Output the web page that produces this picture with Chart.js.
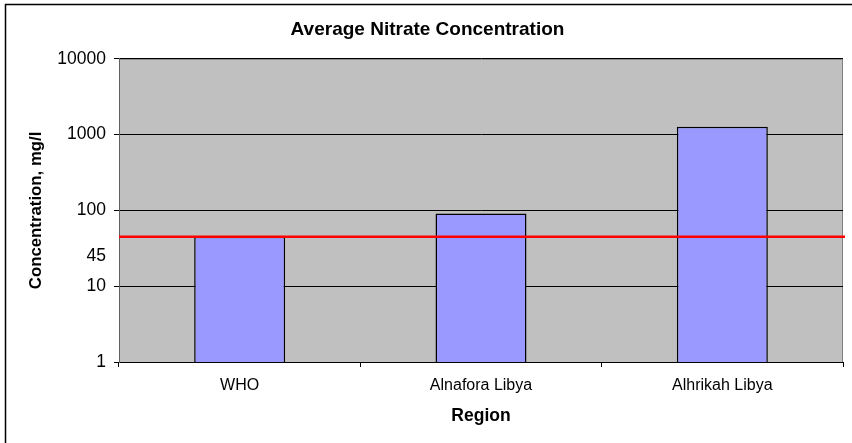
<!DOCTYPE html>
<html>
<head>
<meta charset="utf-8">
<script src="https://cdn.jsdelivr.net/npm/chart.js@4/dist/chart.umd.min.js"></script>
<style>
  html, body { margin: 0; padding: 0; background: #fff; }
  #wrap { position: relative; width: 852px; height: 443px; }
</style>
</head>
<body>
<div id="wrap"><canvas id="nitrate-chart" width="852" height="443"></canvas></div>
<script>
// Dữ liệu biểu đồ
const regions = ["WHO", "Alnafora Libya", "Alhrikah Libya"];
const concentrations = [45, 91, 1270];
const whoLimit = 45; // giới hạn WHO (đường đỏ)
const yTicks = [1, 10, 100, 1000, 10000];

const FONT = "'Liberation Sans', Arial, sans-serif";

// Nền xám cho vùng vẽ, khung ngoài, đường giới hạn và nhãn "45"
const decorPlugin = {
  id: "decor",
  beforeDraw(chart) {
    const { ctx, chartArea } = chart;
    ctx.save();
    ctx.fillStyle = "#fff";
    ctx.fillRect(0, 0, chart.width, chart.height);
    // khung ngoài (chỉ thấy cạnh trái và trên)
    ctx.strokeStyle = "#000";
    ctx.lineWidth = 1.5;
    ctx.strokeRect(5.5, 4.5, chart.width + 10, chart.height + 10);
    ctx.fillStyle = "#c0c0c0";
    ctx.fillRect(chartArea.left, chartArea.top, chartArea.right - chartArea.left, chartArea.bottom - chartArea.top);
    ctx.strokeStyle = "#808080";
    ctx.lineWidth = 1;
    ctx.strokeRect(chartArea.left + 0.5, chartArea.top + 0.5, chartArea.right - chartArea.left - 1, chartArea.bottom - chartArea.top);
    ctx.restore();
  },
  afterDatasetsDraw(chart) {
    const { ctx, chartArea, scales } = chart;
    const y = scales.y.getPixelForValue(whoLimit);
    ctx.save();
    ctx.strokeStyle = "#ff0000";
    ctx.lineWidth = 2.5;
    ctx.beginPath();
    ctx.moveTo(chartArea.left, y);
    ctx.lineTo(chartArea.right + 2, y);
    ctx.stroke();
    // nhãn "45" bên trục tung
    ctx.fillStyle = "#000";
    ctx.font = "17.5px " + FONT;
    ctx.textAlign = "right";
    ctx.textBaseline = "middle";
    ctx.fillText(String(whoLimit), chartArea.left - 13, y + 19);
    ctx.restore();
  }
};

const ctx = document.getElementById("nitrate-chart").getContext("2d");
new Chart(ctx, {
  type: "bar",
  data: {
    labels: regions,
    datasets: [
      {
        label: "Concentration",
        data: concentrations,
        backgroundColor: "#9999ff",
        borderColor: "#000",
        borderWidth: 1.5,
        barPercentage: 0.377,
        categoryPercentage: 1,
      },
    ],
  },
  options: {
    responsive: false,
    animation: false,
    layout: { padding: { top: 18, left: 12, right: 9, bottom: 10 } },
    plugins: {
      legend: { display: false },
      tooltip: { enabled: false },
      title: {
        display: true,
        text: "Average Nitrate Concentration",
        color: "#000",
        font: { family: FONT, size: 19, weight: "bold" },
        padding: { top: 0, bottom: 18 },
      },
    },
    scales: {
      x: {
        offset: true,
        grid: { display: true, drawOnChartArea: false, tickLength: 5, color: "#000", offset: true },
        border: { color: "#000", width: 1 },
        ticks: { color: "#000", font: { family: FONT, size: 16 }, padding: 9, maxRotation: 0 },
        title: {
          display: true,
          text: "Region",
          color: "#000",
          font: { family: FONT, size: 17.5, weight: "bold" },
          padding: { top: 0, bottom: 6.5 },
        },
        afterFit(scale) { scale.height = 71; },
      },
      y: {
        type: "logarithmic",
        min: 1,
        max: 10000,
        afterBuildTicks(scale) {
          scale.ticks = yTicks.map((v) => ({ value: v }));
        },
        grid: { color: "#000", tickLength: 5 },
        border: { color: "#606060", width: 1 },
        ticks: {
          color: "#000",
          font: { family: FONT, size: 17.5 },
          padding: 8,
          callback: (v) => String(v),
        },
        title: {
          display: true,
          text: "Concentration, mg/l",
          color: "#000",
          font: { family: FONT, size: 16.8, weight: "bold" },
          padding: { top: 14, bottom: 0 },
        },
        afterFit(scale) { scale.width = 107; },
      },
    },
  },
  plugins: [decorPlugin],
});
</script>
</body>
</html>
